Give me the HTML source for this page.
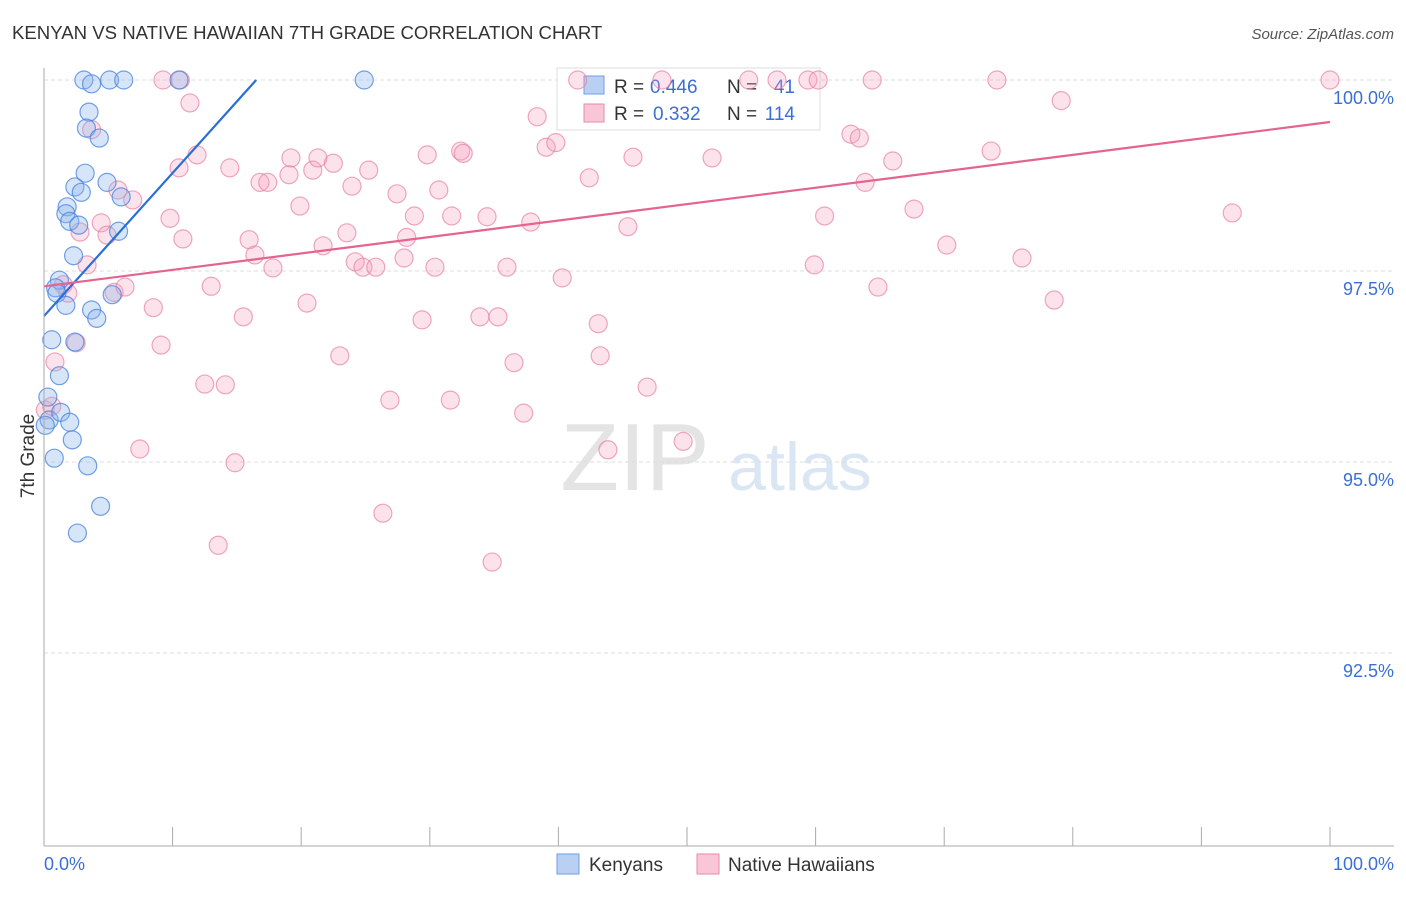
<!DOCTYPE html>
<html><head><meta charset="utf-8"><style>
body{margin:0;background:#fff;font-family:"Liberation Sans",sans-serif}
svg text{font-family:"Liberation Sans",sans-serif}
</style></head><body>
<svg id="c" width="1406" height="892">
<text x="12" y="39" font-size="18.6" fill="#333">KENYAN VS NATIVE HAWAIIAN 7TH GRADE CORRELATION CHART</text>
<text x="1394" y="39" font-size="15" fill="#555" font-style="italic" text-anchor="end">Source: ZipAtlas.com</text>
<text x="635" y="490" font-size="96" fill="#e4e4e4" font-family="Liberation Serif" text-anchor="middle">ZIP</text>
<text x="800" y="490" font-size="68" fill="#dbe6f5" text-anchor="middle">atlas</text>
<g id="grid"></g>
<g>
<rect x="557" y="68" width="263" height="62" fill="#fff" stroke="#ddd"/>
<rect x="584" y="76" width="20" height="18" fill="#b9d0f2" stroke="#6f9ee6"/>
<text x="614" y="93" font-size="19" fill="#333">R =</text>
<text x="650" y="93" font-size="19" fill="#3a6fd8">0.446</text>
<text x="727" y="93" font-size="19" fill="#333">N =</text>
<text x="795" y="93" font-size="19" fill="#3a6fd8" text-anchor="end">41</text>
<rect x="584" y="104" width="20" height="18" fill="#f8c6d6" stroke="#e98aa8"/>
<text x="614" y="120" font-size="19" fill="#333">R =</text>
<text x="653" y="120" font-size="19" fill="#3a6fd8">0.332</text>
<text x="727" y="120" font-size="19" fill="#333">N =</text>
<text x="795" y="120" font-size="19" fill="#3a6fd8" text-anchor="end">114</text>
</g>
<g id="pts"></g><g id="lines"></g>
<line x1="44" y1="68" x2="44" y2="846" stroke="#aaa"/>
<line x1="44" y1="846" x2="1394" y2="846" stroke="#aaa"/>
<text x="34" y="456" font-size="19" fill="#333" transform="rotate(-90 34 456)" text-anchor="middle">7th Grade</text>
<text x="44" y="870" font-size="18" fill="#3a6fd8">0.0%</text>
<text x="1394" y="870" font-size="18" fill="#3a6fd8" text-anchor="end">100.0%</text>
<g>
<rect x="557" y="854" width="22" height="20" fill="#b9d0f2" stroke="#6f9ee6"/>
<text x="589" y="871" font-size="19" fill="#333">Kenyans</text>
<rect x="697" y="854" width="22" height="20" fill="#f8c6d6" stroke="#e98aa8"/>
<text x="728" y="871" font-size="19" fill="#333">Native Hawaiians</text>
</g>
</svg>
<script>
const yTicks=[100,97.5,95,92.5];
const yTickLabels=["100.0%","97.5%","95.0%","92.5%"];
const xTicks=[0,10,20,30,40,50,60,70,80,90,100];
const kenX=[3.1,3.7,5.1,6.2,10.5,24.9,3.5,3.3,4.3,3.2,2.4,2.9,4.9,6.0,1.8,1.7,2.0,2.7,5.8,2.3,1.2,0.9,1.0,1.7,3.7,4.1,5.3,0.6,2.4,1.2,0.3,0.4,1.3,2.0,2.2,0.8,3.4,4.4,2.6,0.1];
const kenY=[100,99.95,100,100,100,100,99.58,99.37,99.24,98.78,98.6,98.53,98.66,98.47,98.34,98.25,98.15,98.1,98.02,97.7,97.38,97.28,97.21,97.05,96.99,96.88,97.19,96.6,96.57,96.13,95.85,95.55,95.65,95.52,95.29,95.05,94.95,94.42,94.07,95.48];
const hawX=[9.25,10.6,11.35,3.7,5.75,6.9,2.8,4.45,4.9,3.35,5.45,6.3,1.5,1.85,0.85,2.5,0.1,0.6,9.1,8.5,7.45,9.8,10.8,10.5,11.9,14.45,13.0,15.5,12.5,14.1,13.55,14.85,15.95,16.4,17.8,16.8,17.4,19.05,19.2,19.9,20.45,20.9,21.3,21.7,22.5,23.55,23.95,24.2,24.8,25.8,25.25,23.0,26.9,26.35,27.45,28.0,28.2,28.8,29.8,29.4,30.4,30.7,31.7,31.6,32.4,32.6,33.9,34.45,35.3,36.0,36.55,34.85,37.3,37.85,38.35,39.05,39.8,40.3,42.4,43.1,43.25,43.85,41.5,45.4,45.8,46.9,48.05,49.7,51.95,54.8,57.0,59.4,60.2,59.9,60.7,62.75,63.4,63.85,64.4,64.85,66.0,67.65,70.2,73.65,74.1,76.05,78.55,79.1,92.4,100];
const hawY=[100,100,99.7,99.35,98.56,98.43,98.01,98.13,97.97,97.58,97.22,97.29,97.32,97.21,96.31,96.56,95.68,95.73,96.53,97.02,95.17,98.19,97.92,98.85,99.02,98.85,97.3,96.9,96.02,96.01,93.91,94.99,97.91,97.71,97.54,98.66,98.66,98.76,98.98,98.35,97.08,98.82,98.98,97.83,98.91,98.0,98.61,97.62,97.55,97.55,98.82,96.39,95.81,94.33,98.51,97.67,97.94,98.22,99.02,96.86,97.55,98.56,98.22,95.81,99.07,99.04,96.9,98.21,96.9,97.55,96.3,93.69,95.64,98.14,99.52,99.12,99.18,97.41,98.72,96.81,96.39,95.16,100,98.08,98.99,95.98,100,95.27,98.98,100,100,100,100,97.58,98.22,99.29,99.24,98.66,100,97.29,98.94,98.31,97.84,99.07,100,97.67,97.12,99.73,98.26,100];
const kenLine=[[0,96.91],[16.5,100]];
const hawLine=[[0,97.3],[100,99.45]];
const NS="http://www.w3.org/2000/svg";
const sx=v=>44+v*12.86, sy=v=>80+(100-v)*76.4;
function mk(t,a,p){const e=document.createElementNS(NS,t);for(const k in a)e.setAttribute(k,a[k]);p.appendChild(e);return e;}
const g=document.getElementById('grid');
yTicks.forEach((t,i)=>{
 const l=mk('line',{x1:44,x2:1394,y1:sy(t),y2:sy(t),stroke:'#ddd','stroke-dasharray':'4 3'},g);
 
 
 const tx=mk('text',{x:1394,y:sy(t)+24,'font-size':18,fill:'#3a6fd8','text-anchor':'end'},g);
 tx.textContent=yTickLabels[i];
 
 
});
xTicks.forEach(t=>{
 const l=mk('line',{x1:sx(t),x2:sx(t),y1:827,y2:846,stroke:'#aaa'},g);
 
 
});
const p=document.getElementById('pts');
hawX.forEach((x,i)=>{
 const c=mk('circle',{cx:sx(x),cy:sy(hawY[i]),r:9,fill:'rgba(244,160,188,0.3)',stroke:'rgba(232,130,165,0.7)','stroke-width':1.2},p);
 
 
});
kenX.forEach((x,i)=>{
 const c=mk('circle',{cx:sx(x),cy:sy(kenY[i]),r:9,fill:'rgba(140,180,235,0.35)',stroke:'rgba(70,130,220,0.75)','stroke-width':1.2},p);
 
 
});
const L=document.getElementById('lines');
const a=mk('line',{x1:sx(kenLine[0][0]),y1:sy(kenLine[0][1]),x2:sx(kenLine[1][0]),y2:sy(kenLine[1][1]),stroke:'#2a6fd6','stroke-width':2.2},L);


const b=mk('line',{x1:sx(hawLine[0][0]),y1:sy(hawLine[0][1]),x2:sx(hawLine[1][0]),y2:sy(hawLine[1][1]),stroke:'#e5638f','stroke-width':2.2},L);


</script>
</body></html>
